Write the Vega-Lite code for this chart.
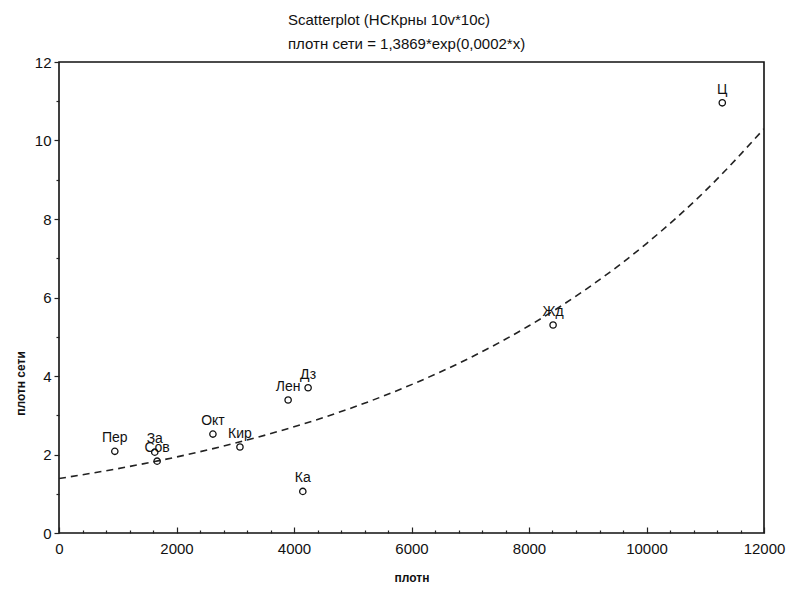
{
  "$schema": "https://vega.github.io/schema/vega-lite/v6.json",
  "width": 705,
  "height": 471,
  "autosize": {"type": "none"},
  "padding": {"left": 59, "top": 62, "right": 24, "bottom": 59},
  "background": "white",
  "config": {
    "font": "Liberation Sans",
    "view": {"stroke": "#111", "strokeWidth": 1.6},
    "axis": {"grid": false, "domain": false, "labelFont": "Liberation Sans", "titleFont": "Liberation Sans", "labelColor": "#111", "titleColor": "#111", "tickColor": "#222", "tickWidth": 1.2}
  },
  "title": {
    "text": ["Scatterplot (НСКрны 10v*10c)", "плотн сети = 1,3869*exp(0,0002*x)"],
    "anchor": "start",
    "frame": "group",
    "dx": 229,
    "fontSize": 15,
    "fontWeight": "normal",
    "lineHeight": 24,
    "offset": 3,
    "color": "#111",
    "font": "Liberation Sans"
  },
  "datasets": {
    "pts": [
      {"name": "Пер", "plotn": 950, "seti": 2.08},
      {"name": "За", "plotn": 1630, "seti": 2.06},
      {"name": "Сов", "plotn": 1670, "seti": 1.83},
      {"name": "Окт", "plotn": 2620, "seti": 2.52},
      {"name": "Кир", "plotn": 3080, "seti": 2.19},
      {"name": "Лен", "plotn": 3900, "seti": 3.39},
      {"name": "Дз", "plotn": 4240, "seti": 3.70},
      {"name": "Ка", "plotn": 4150, "seti": 1.06},
      {"name": "Жд", "plotn": 8410, "seti": 5.30},
      {"name": "Ц", "plotn": 11290, "seti": 10.96}
    ],
    "fit": [
      {"plotn": 0, "seti": 1.387},
      {"plotn": 1000, "seti": 1.639},
      {"plotn": 2000, "seti": 1.937},
      {"plotn": 3000, "seti": 2.29},
      {"plotn": 4000, "seti": 2.706},
      {"plotn": 5000, "seti": 3.198},
      {"plotn": 6000, "seti": 3.78},
      {"plotn": 7000, "seti": 4.467},
      {"plotn": 8000, "seti": 5.28},
      {"plotn": 9000, "seti": 6.24},
      {"plotn": 10000, "seti": 7.375},
      {"plotn": 11000, "seti": 8.716},
      {"plotn": 12000, "seti": 10.3}
    ]
  },
  "encoding": {
    "x": {
      "field": "plotn", "type": "quantitative",
      "scale": {"domain": [0, 12000], "nice": false},
      "axis": {
        "title": "плотн",
        "titleFontSize": 12,
        "titleFontWeight": "bold",
        "titlePadding": 13,
        "values": [0, 400, 800, 1200, 1600, 2000, 2400, 2800, 3200, 3600, 4000, 4400, 4800, 5200, 5600, 6000, 6400, 6800, 7200, 7600, 8000, 8400, 8800, 9200, 9600, 10000, 10400, 10800, 11200, 11600, 12000],
        "labelExpr": "datum.value % 2000 === 0 ? datum.label : ''",
        "format": "d",
        "labelFontSize": 15,
        "labelPadding": 14,
        "labelFlush": false,
        "labelOverlap": false,
        "tickSize": {"condition": {"test": "datum.value % 2000 === 0", "value": -6}, "value": -3}
      }
    },
    "y": {
      "field": "seti", "type": "quantitative",
      "scale": {"domain": [0, 12], "nice": false},
      "axis": {
        "title": "плотн сети",
        "titleFontSize": 12,
        "titleFontWeight": "bold",
        "titleX": -32,
        "titleY": 321,
        "values": [0, 1, 2, 3, 4, 5, 6, 7, 8, 9, 10, 11, 12],
        "labelExpr": "datum.value % 2 === 0 ? datum.label : ''",
        "labelFontSize": 15,
        "labelPadding": 3,
        "labelFlush": false,
        "labelOverlap": false,
        "tickSize": {"condition": {"test": "datum.value % 2 === 0", "value": 5}, "value": 3}
      }
    }
  },
  "layer": [
    {
      "data": {"name": "fit"},
      "mark": {"type": "line", "interpolate": "monotone", "strokeDash": [7, 5], "strokeWidth": 1.6, "color": "#222", "clip": true}
    },
    {
      "data": {"name": "pts"},
      "mark": {"type": "point", "shape": "circle", "filled": false, "stroke": "#111", "strokeWidth": 1.3, "size": 40, "opacity": 1}
    },
    {
      "data": {"name": "pts"},
      "mark": {"type": "text", "dy": -13, "fontSize": 14, "color": "#111", "align": "center", "baseline": "middle"},
      "encoding": {
        "text": {"field": "name"}
      }
    }
  ]
}
